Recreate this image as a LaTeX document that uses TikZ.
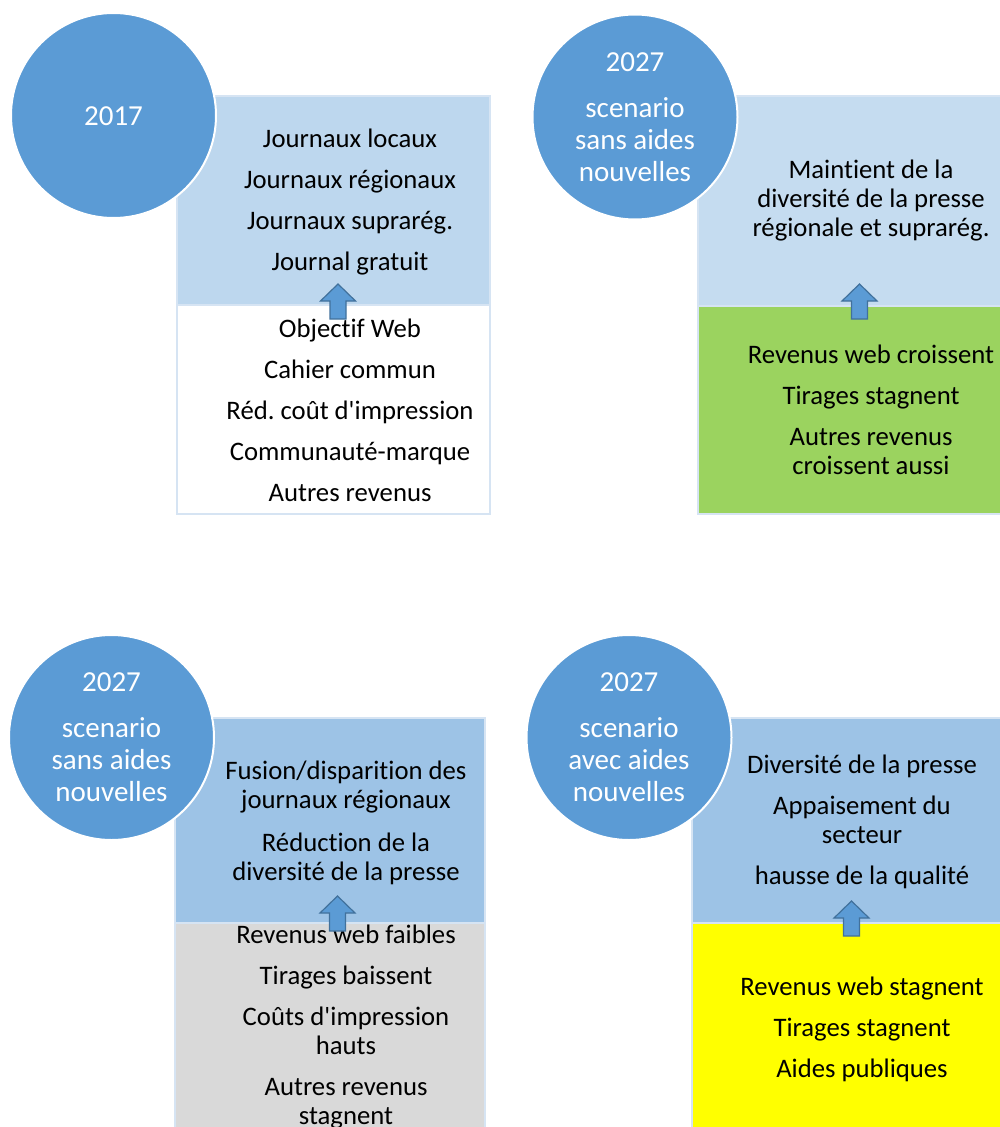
\documentclass[tikz,border=0pt]{standalone}
\usepackage{fontspec}
\setmainfont{Carlito}[Ligatures={NoCommon}]
\usepackage{tikz}
\usetikzlibrary{positioning}
\definecolor{circblue}{RGB}{91,155,213}
\definecolor{arrowline}{RGB}{65,113,156}
\definecolor{paleblue}{RGB}{189,215,238}
\definecolor{paleblue2}{RGB}{197,220,240}
\definecolor{midblue}{RGB}{157,195,230}
\definecolor{boxline}{RGB}{214,228,243}
\definecolor{webgreen}{RGB}{155,211,95}
\definecolor{softgray}{RGB}{217,217,217}
\definecolor{aidyellow}{RGB}{255,255,0}
\frenchspacing

\begin{document}
\begin{tikzpicture}[x=1pt, y=-1pt,
  panel/.style={draw=boxline, line width=1.5pt, anchor=north west, inner sep=0pt},
  yearcirc/.style={circle, fill=circblue, draw=white, line width=2pt, minimum size=205pt, inner sep=0pt},
  yeartext/.style={text=white, align=center, inner sep=0pt, font=\fontsize{29}{32}\selectfont},
  bodytext/.style={align=center, inner sep=0pt, yshift=-2pt, font=\fontsize{26.7}{29}\selectfont},
  uparrow/.style={fill=circblue, draw=arrowline, line width=1.2pt, line join=miter}]

  \useasboundingbox (0,0) rectangle (999,1127);

  % Panels
  \node[panel, fill=paleblue, minimum width=313pt, minimum height=209pt] (top1) at (176,95) {};
  \node[panel, fill=white, minimum width=313pt, minimum height=209pt] (base1) at (176,304) {};

  \node[panel, fill=paleblue2, minimum width=315pt, minimum height=210pt] (top2) at (697,95) {};
  \node[panel, fill=webgreen, minimum width=315pt, minimum height=208pt] (base2) at (697,305) {};

  \node[panel, fill=midblue, minimum width=310pt, minimum height=205pt] (top3) at (174,717) {};
  \node[panel, fill=softgray, minimum width=310pt, minimum height=215pt] (base3) at (174,922) {};

  \node[panel, fill=midblue, minimum width=320pt, minimum height=205pt] (top4) at (691,717) {};
  \node[panel, fill=aidyellow, minimum width=320pt, minimum height=215pt] (base4) at (691,922) {};

  % Year circles
  \node[yearcirc] (year1) at (113.5,115.5) {};
  \node[yearcirc] (year2) at (635,117) {};
  \node[yearcirc] (year3) at (111.5,737.5) {};
  \node[yearcirc] (year4) at (629,737.5) {};

  \node[yeartext, yshift=-1pt] (yt1) at (year1.center) {2017};
  \node[yeartext] (yt2) at (year2.center) {2027\\[14pt]scenario\\sans aides\\nouvelles};
  \node[yeartext] (yt3) at (year3.center) {2027\\[14pt]scenario\\sans aides\\nouvelles};
  \node[yeartext] (yt4) at (year4.center) {2027\\[14pt]scenario\\avec aides\\nouvelles};

  % Texts
  \node[bodytext] (list1) at (350,200) {Journaux locaux\\[12pt]Journaux régionaux\\[12pt]Journaux suprarég.\\[12pt]Journal gratuit};
  \node[bodytext] (cause1) at (350,408.5) {Objectif Web\\[12pt]Cahier commun\\[12pt]Réd. coût d\textquotesingle impression\\[12pt]Communauté-marque\\[12pt]Autres revenus};

  \node[bodytext] (list2) at (871,199) {Maintient de la\\diversité de la presse\\régionale et suprarég.};
  \node[bodytext] (cause2) at (871,408) {Revenus web croissent\\[12pt]Tirages stagnent\\[12pt]Autres revenus\\croissent aussi};

  \node[bodytext] (list3) at (346,820.5) {Fusion/disparition des\\journaux régionaux\\[14pt]Réduction de la\\diversité de la presse};
  \node[bodytext] (cause3) at (346,1025.5) {Revenus web faibles\\[12pt]Tirages baissent\\[12pt]Coûts d\textquotesingle impression\\hauts\\[12pt]Autres revenus\\stagnent};

  \node[bodytext] (list4) at (862,820) {Diversité de la presse\\[12pt]Appaisement du\\secteur\\[12pt]hausse de la qualité};
  \node[bodytext] (cause4) at (862,1027) {Revenus web stagnent\\[12pt]Tirages stagnent\\[12pt]Aides publiques};

  % Up arrows
  \draw[uparrow] (338,284) -- ++(17.5,17) -- ++(-9.5,0) -- ++(0,18) -- ++(-16,0) -- ++(0,-18) -- ++(-9.5,0) -- cycle;
  \draw[uparrow] (859.5,284) -- ++(17.5,17) -- ++(-9.5,0) -- ++(0,18) -- ++(-16,0) -- ++(0,-18) -- ++(-9.5,0) -- cycle;
  \draw[uparrow] (337.5,896) -- ++(17.5,17) -- ++(-9.5,0) -- ++(0,18) -- ++(-16,0) -- ++(0,-18) -- ++(-9.5,0) -- cycle;
  \draw[uparrow] (851.5,901) -- ++(17.5,17) -- ++(-9.5,0) -- ++(0,18) -- ++(-16,0) -- ++(0,-18) -- ++(-9.5,0) -- cycle;
\end{tikzpicture}
\end{document}
